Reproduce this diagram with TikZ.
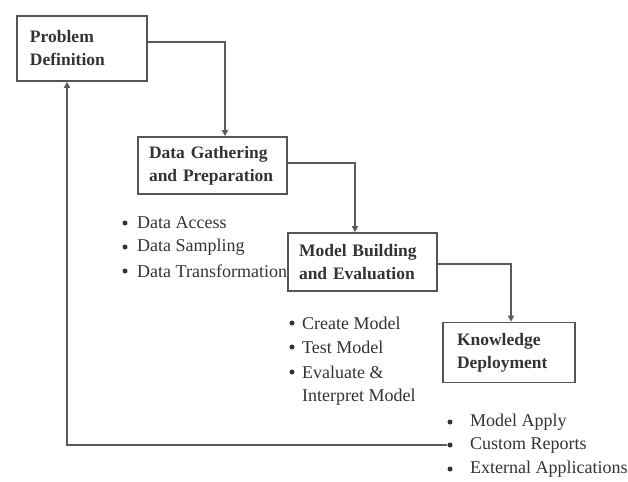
\documentclass[tikz,border=0pt]{standalone}
\usepackage{fontspec}
\setmainfont{Liberation Serif}
\usetikzlibrary{arrows.meta}
\definecolor{boxline}{HTML}{555555}
\definecolor{conn}{HTML}{5A5A5A}
\definecolor{txt}{HTML}{333333}
\hyphenpenalty=10000
\exhyphenpenalty=10000
\begin{document}
\begin{tikzpicture}[x=1bp,y=-1bp,
  stagebox/.style={draw=boxline,line width=1.6bp,rectangle,inner xsep=0pt,inner ysep=0pt,
    align=left,text=txt,font=\fontsize{17.5bp}{23bp}\selectfont\bfseries},
  flow/.style={draw=conn,line width=1.4bp,-{Triangle[length=6bp,width=6bp]}},
  itemtext/.style={anchor=west,inner sep=0pt,text=txt,font=\fontsize{18bp}{22bp}\selectfont},
  dot/.style={circle,fill=txt,inner sep=0pt,minimum size=5bp}]
\useasboundingbox (0,0) rectangle (628,482);
% boxes
\node[stagebox,minimum width=130bp,minimum height=65bp,text width=104bp] (pd) at (82,48.5) {Problem\\Definition};
\node[stagebox,minimum width=149bp,minimum height=57bp,text width=127bp] (dg) at (212.5,165.5) {Data Gathering\\and Preparation};
\node[stagebox,minimum width=149bp,minimum height=58bp,text width=127bp] (mb) at (362.5,262) {Model Building\\and Evaluation};
\node[stagebox,minimum width=132bp,minimum height=60bp,text width=104bp] (kd) at (509,352.5) {Knowledge\\Deployment};
% data list
\node[dot] (b1) at (125,223) {};
\node[itemtext] (t1) at (137,223) {Data Access};
\node[dot] (b2) at (125,247) {};
\node[itemtext] (t2) at (137,247) {Data Sampling};
\node[dot] (b3) at (125,271) {};
\node[itemtext] (t3) at (137,271) {Data Transformation};
% model list
\node[dot] (c1) at (292,323) {};
\node[itemtext] (u1) at (302,323) {Create Model};
\node[dot] (c2) at (292,347) {};
\node[itemtext] (u2) at (302,347) {Test Model};
\node[dot] (c3) at (292,372) {};
\node[itemtext] (u3) at (302,372) {Evaluate \&};
\node[itemtext] (u4) at (302,397) {Interpret Model};
% knowledge list
\node[dot] (d1) at (450,422) {};
\node[itemtext] (v1) at (470,422) {Model Apply};
\node[dot] (d2) at (450,445) {};
\node[itemtext] (v2) at (470,445) {Custom Reports};
\node[dot] (d3) at (450,469) {};
\node[itemtext] (v3) at (470,469) {External Applications};
% connectors
\draw[flow] (pd.east |- 0,42) -| (dg.north -| 225,0);
\draw[flow] (dg.east |- 0,163) -| (mb.north -| 355,0);
\draw[flow] (mb.east |- 0,264) -| (kd.north -| 511,0);
\coordinate (fb) at (67,445);
\draw[flow] (d2.west) -- (fb) -- (pd.south -| fb);
\end{tikzpicture}
\end{document}
